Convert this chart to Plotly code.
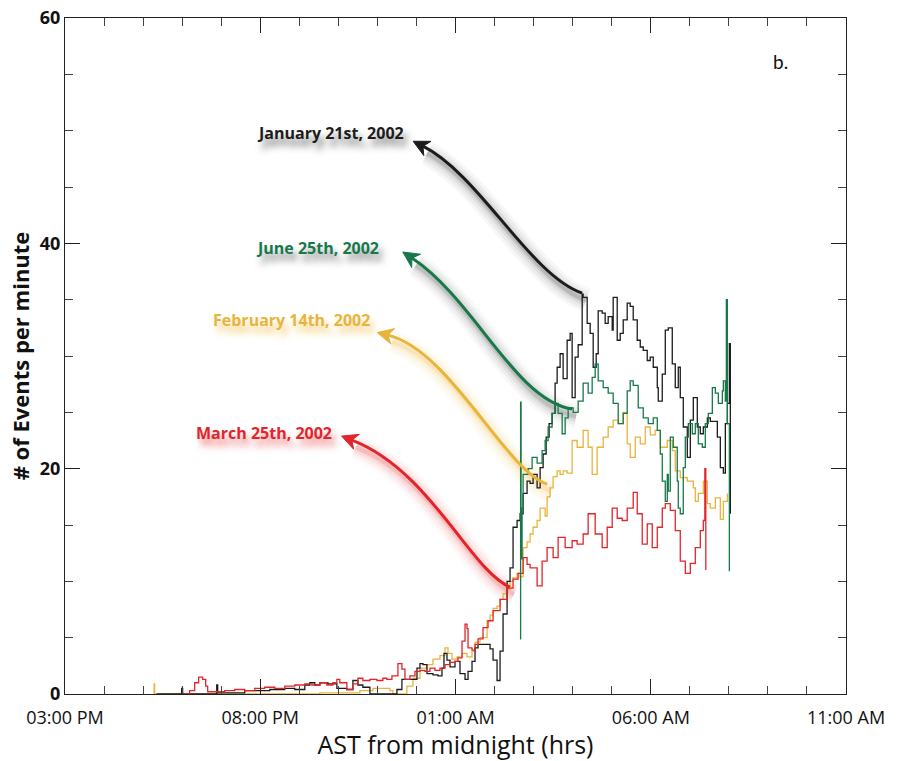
import math
import plotly.graph_objects as go

# ---------------------------------------------------------------------------
# Event rates (events per minute) vs. AST hours from midnight
# (negative hours = evening before midnight)
# ---------------------------------------------------------------------------
jan21_hours = [-6.654, -6.038, -6.013, -5.987, -5.141, -5.115, -5.090, -4.654, -4.397, -4.038,
               -3.756, -3.372, -3.115, -2.859, -2.731, -2.603, -2.474, -2.269, -2.038, -1.782,
               -1.628, -1.500, -1.372, -1.192, -0.603, -0.500, -0.372, -0.167, 0.013, 0.090,
               0.167, 0.269, 0.423, 0.551, 0.654, 0.705, 0.782, 0.859, 0.987, 1.115,
               1.244, 1.321, 1.423, 1.500, 1.577, 1.756, 1.885, 1.962, 2.064, 2.141,
               2.218, 2.321, 2.397, 2.474, 2.577, 2.654, 2.731, 2.833, 2.910, 2.987,
               3.090, 3.167, 3.244, 3.321, 3.397, 3.474, 3.551, 3.603, 3.679, 3.756,
               3.859, 3.936, 3.987, 4.064, 4.141, 4.244, 4.269, 4.372, 4.449, 4.526,
               4.603, 4.654, 4.756, 4.833, 4.910, 5.013, 5.038, 5.141, 5.218, 5.295,
               5.397, 5.474, 5.551, 5.654, 5.731, 5.808, 5.910, 5.987, 6.064, 6.167,
               6.192, 6.295, 6.372, 6.449, 6.551, 6.628, 6.705, 6.756, 6.833, 6.936,
               7.013, 7.090, 7.192, 7.269, 7.346, 7.449, 7.526, 7.603, 7.705, 7.782,
               7.859, 7.910, 7.962, 8.013, 8.038]
jan21_rate = [0, 0, 0.5, 0, 0, 0.8, 0.1, 0.1, 0.3, 0.3,
              0.4, 0.5, 0.4, 0.8, 1.0, 0.8, 1.0, 0.9, 0.5, 0.4,
              1.2, 0.8, 0.6, 0, 0, 0.4, 1.3, 1.3, 2.3, 2.7,
              2.6, 1.8, 1.7, 1.6, 2.3, 3.6, 3.0, 2.4, 2.9, 1.8,
              1.3, 2.0, 2.9, 4.1, 4.4, 4.4, 4.0, 3.0, 1.2, 3.8,
              7.1, 10.0, 11.2, 14.8, 15.4, 16.0, 17.8, 18.9, 18.7, 19.5,
              18.3, 20.1, 21.3, 22.8, 24.0, 24.9, 27.6, 29.0, 30.2, 28.0,
              31.4, 32.0, 26.3, 29.9, 31.0, 35.5, 35.2, 32.9, 32.0, 29.0,
              30.2, 34.0, 33.8, 32.9, 33.5, 32.3, 35.2, 31.4, 32.0, 33.2,
              34.7, 34.4, 33.2, 31.4, 30.8, 30.5, 29.6, 29.9, 29.0, 27.2,
              26.0, 28.4, 32.3, 32.5, 29.3, 27.2, 29.0, 26.3, 23.7, 21.0,
              24.3, 26.3, 23.7, 23.1, 23.7, 24.5, 24.2, 24.2, 22.8, 20.1,
              19.6, 24.0, 25.8, 31.1, 16.0]

jun25_hours = [2.654, 2.667, 2.679, 2.705, 2.731, 2.859, 2.962, 3.090, 3.218, 3.295,
               3.372, 3.474, 3.551, 3.628, 3.731, 3.808, 3.885, 4.013, 4.141, 4.269,
               4.397, 4.500, 4.577, 4.654, 4.782, 4.910, 5.038, 5.167, 5.295, 5.397,
               5.474, 5.551, 5.679, 5.808, 5.936, 6.064, 6.167, 6.244, 6.295, 6.372,
               6.423, 6.449, 6.500, 6.577, 6.679, 6.705, 6.756, 6.833, 6.885, 6.962,
               7.064, 7.141, 7.218, 7.321, 7.397, 7.474, 7.577, 7.654, 7.731, 7.833,
               7.859, 7.910, 7.936, 7.962, 8.013]
jun25_rate = [4.9, 25.9, 12.0, 16.5, 19.5, 20.0, 21.0, 20.5, 21.6, 22.5,
              23.7, 24.9, 25.8, 24.9, 23.1, 24.5, 25.4, 25.0, 26.0, 27.6,
              26.7, 28.1, 29.3, 27.8, 27.2, 26.7, 25.8, 24.0, 24.9, 26.9,
              27.8, 27.4, 25.4, 24.5, 24.0, 24.5, 23.4, 21.3, 18.9, 17.1,
              19.5, 18.0, 22.8, 21.9, 18.9, 16.5, 16.0, 20.1, 22.8, 24.0,
              23.1, 24.0, 22.2, 21.9, 24.0, 24.9, 27.2, 26.7, 25.8, 26.9,
              27.8, 26.0, 35.0, 24.0, 10.9]

feb14_hours = [-6.731, -6.718, -6.705, -2.987, -2.474, -1.833, -1.449, -1.115, -0.808, -0.679,
               -0.603, -0.423, -0.244, -0.090, 0.090, 0.269, 0.423, 0.603, 0.731, 0.808,
               0.910, 1.038, 1.167, 1.295, 1.423, 1.500, 1.628, 1.705, 1.808, 1.885,
               1.962, 2.064, 2.141, 2.218, 2.321, 2.397, 2.474, 2.577, 2.654, 2.731,
               2.833, 2.910, 2.987, 3.090, 3.167, 3.218, 3.295, 3.346, 3.423, 3.500,
               3.603, 3.679, 3.756, 3.859, 3.987, 4.115, 4.269, 4.397, 4.500, 4.628,
               4.782, 4.910, 5.038, 5.167, 5.295, 5.397, 5.474, 5.603, 5.731, 5.859,
               5.987, 6.115, 6.244, 6.423, 6.551, 6.628, 6.756, 6.936, 7.090, 7.141,
               7.218, 7.346, 7.449, 7.526, 7.654, 7.782, 7.859, 7.962]
feb14_rate = [0, 0.9, 0, 0, 0.1, 0.1, 0.3, 0.5, 0.5, 0.3,
              0, 0, 0.7, 1.4, 2.3, 2.6, 3.1, 3.4, 4.1, 3.6,
              3.1, 3.3, 3.6, 3.3, 3.8, 4.6, 5.0, 5.0, 6.5, 7.0,
              7.6, 7.8, 8.4, 8.9, 9.3, 10.0, 10.3, 10.7, 10.4, 13.0,
              13.5, 14.2, 14.8, 15.4, 16.5, 16.5, 15.8, 17.5, 18.3, 19.3,
              19.8, 19.5, 19.8, 19.6, 22.5, 21.9, 23.4, 21.9, 19.5, 21.9,
              22.8, 23.7, 24.3, 24.0, 25.0, 22.2, 21.0, 22.8, 22.2, 23.7,
              23.0, 23.4, 21.9, 22.5, 21.6, 19.8, 19.2, 18.9, 18.3, 17.1,
              17.8, 18.9, 16.9, 16.5, 17.4, 15.5, 17.1, 17.8]

mar25_hours = [-5.936, -5.808, -5.679, -5.577, -5.474, -5.397, -5.346, -5.167, -4.910, -4.654,
               -4.397, -4.141, -3.885, -3.628, -3.372, -3.115, -2.859, -2.679, -2.474, -2.295,
               -2.141, -2.038, -1.962, -1.782, -1.628, -1.500, -1.372, -1.192, -1.013, -0.859,
               -0.756, -0.628, -0.474, -0.372, -0.295, -0.167, -0.038, 0.090, 0.218, 0.346,
               0.474, 0.603, 0.731, 0.859, 0.987, 1.064, 1.167, 1.244, 1.295, 1.321,
               1.423, 1.500, 1.577, 1.705, 1.833, 1.962, 2.141, 2.321, 2.474, 2.603,
               2.731, 2.833, 2.910, 3.090, 3.218, 3.346, 3.500, 3.628, 3.808, 3.987,
               4.115, 4.269, 4.397, 4.577, 4.756, 4.885, 5.013, 5.141, 5.269, 5.397,
               5.551, 5.654, 5.782, 5.910, 6.038, 6.167, 6.295, 6.372, 6.500, 6.628,
               6.756, 6.885, 7.013, 7.141, 7.269, 7.346, 7.385, 7.410]
mar25_rate = [0, 0.3, 1.0, 1.5, 1.3, 0.7, 0.2, 0.2, 0.3, 0.4,
              0.3, 0.5, 0.6, 0.5, 0.7, 0.8, 0.9, 0.8, 1.0, 0.8,
              1.0, 1.3, 1.0, 0.4, 0.9, 1.4, 1.2, 1.3, 1.2, 1.4,
              1.3, 1.6, 2.7, 2.2, 1.3, 1.6, 2.0, 2.1, 2.0, 2.3,
              2.1, 2.3, 2.6, 2.8, 2.9, 3.2, 4.7, 6.2, 5.8, 4.1,
              3.9, 4.4, 4.9, 5.9, 6.5, 7.4, 8.4, 9.4, 10.2, 10.7,
              12.1, 11.5, 11.2, 9.6, 11.8, 13.0, 12.1, 13.9, 13.0, 13.6,
              13.3, 14.2, 16.0, 14.2, 13.0, 14.8, 16.5, 15.6, 15.4, 16.5,
              17.9, 16.0, 13.3, 15.1, 13.0, 14.8, 16.5, 16.9, 16.3, 14.5,
              11.8, 10.7, 11.6, 13.0, 14.5, 15.4, 20.0, 11.0]

tick_hours = [-9, -4, 1, 6, 11]
tick_labels = ["03:00 PM", "08:00 PM", "01:00 AM", "06:00 AM", "11:00 AM"]
count_ticks = [0, 20, 40, 60]

# ---------------------------------------------------------------------------
# Layout constants
# ---------------------------------------------------------------------------
W, H = 897, 761
MARGIN = dict(l=65, r=51, t=18, b=67)
X_RANGE = [-9, 11]
Y_RANGE = [0, 60]
PX_PER_X = (W - MARGIN["l"] - MARGIN["r"]) / (X_RANGE[1] - X_RANGE[0])
PX_PER_Y = (H - MARGIN["t"] - MARGIN["b"]) / (Y_RANGE[1] - Y_RANGE[0])

BLACK = "#1c1c1c"
GREEN = "#17794a"
GOLD = "#e9b43c"
RED = "#e2242b"

series = [
    ("February 14th, 2002", feb14_hours, feb14_rate, GOLD),
    ("January 21st, 2002", jan21_hours, jan21_rate, BLACK),
    ("March 25th, 2002", mar25_hours, mar25_rate, RED),
    ("June 25th, 2002", jun25_hours, jun25_rate, GREEN),
]

fig = go.Figure()
for name, t, n, color in series:
    fig.add_trace(go.Scatter(
        x=t, y=n, name=name, mode="lines",
        line=dict(color=color, width=1.3, shape="hv"),
        hoverinfo="skip", showlegend=False,
    ))

# ---------------------------------------------------------------------------
# Curved call-out arrows (cubic Bezier from the trace to its label)
# ---------------------------------------------------------------------------
callouts = [
    # label, colour, glow rgb, glow strength, bezier control points (hours, events), label anchor
    ("January 21st, 2002", BLACK, "60,60,60", 1.0,
     [(4.244, 35.58), (2.910, 37.18), (1.628, 46.05), (0.167, 48.62)], (-0.27, 49.8)),
    ("June 25th, 2002", GREEN, "60,60,60", 0.9,
     [(3.987, 25.29), (2.526, 26.09), (1.500, 34.96), (-0.115, 38.69)], (-0.91, 39.6)),
    ("February 14th, 2002", GOLD, "240,185,60", 1.0,
     [(3.346, 18.63), (2.269, 19.88), (0.859, 30.52), (-0.731, 31.85)], (-1.14, 33.2)),
    ("March 25th, 2002", RED, "235,50,50", 0.9,
     [(2.397, 9.49), (1.372, 11.00), (0.346, 19.88), (-1.654, 22.54)], (-2.12, 23.2)),
]


def bezier_path(pts, dx=0.0, dy=0.0):
    (x0, y0), (x1, y1), (x2, y2), (x3, y3) = pts
    return (f"M {x0 + dx},{y0 + dy} C {x1 + dx},{y1 + dy} "
            f"{x2 + dx},{y2 + dy} {x3 + dx},{y3 + dy}")


def arrow_head(pts, dx=0.0, dy=0.0):
    (x2, y2), (x3, y3) = pts[2], pts[3]
    ux, uy = (x3 - x2) * PX_PER_X, (y3 - y2) * PX_PER_Y
    norm = math.hypot(ux, uy)
    ux, uy = ux / norm, uy / norm
    nx, ny = -uy, ux

    def pt(along, side):
        px = along * ux + side * nx
        py = along * uy + side * ny
        return (x3 + dx + px / PX_PER_X, y3 + dy + py / PX_PER_Y)

    tip = pt(11, 0)
    b1 = pt(-5, 8)
    notch = pt(0, 0)
    b2 = pt(-5, -8)
    return (f"M {tip[0]},{tip[1]} L {b1[0]},{b1[1]} L {notch[0]},{notch[1]} "
            f"L {b2[0]},{b2[1]} Z")


shapes = []
annotations = []
sdx, sdy = 4 / PX_PER_X, -7 / PX_PER_Y
for label, color, glow, strength, pts, anchor in callouts:
    # soft drop shadow built from stacked translucent strokes
    for width, alpha in [(24, 0.04), (18, 0.06), (12, 0.08), (7, 0.11), (4, 0.14)]:
        shapes.append(dict(type="path", path=bezier_path(pts, sdx, sdy),
                           xref="x", yref="y", layer="below",
                           line=dict(color=f"rgba({glow},{alpha * strength:.3f})",
                                     width=width)))
    # arrow body and head
    shapes.append(dict(type="path", path=bezier_path(pts), xref="x", yref="y",
                       layer="above", line=dict(color=color, width=3)))
    shapes.append(dict(type="path", path=arrow_head(pts), xref="x", yref="y",
                       layer="above", fillcolor=color, line=dict(color=color, width=1)))
    annotations.append(dict(
        x=anchor[0], y=anchor[1], xref="x", yref="y", text=label, showarrow=False,
        xanchor="right", yanchor="middle",
        font=dict(family="Open Sans", size=16, color=color, weight="bold",
                  shadow=f"4px 7px 7px rgba({glow},{0.7 * strength:.2f})"),
    ))

annotations.append(dict(
    x=9.32, y=56.1, xref="x", yref="y", text="b.", showarrow=False,
    xanchor="center", yanchor="middle",
    font=dict(family="Lato", size=19, color="#111"),
))

axis_font = dict(family="Open Sans", color="#111")

fig.update_layout(
    width=W, height=H, margin=MARGIN,
    paper_bgcolor="white", plot_bgcolor="white",
    shapes=shapes, annotations=annotations, showlegend=False,
    xaxis=dict(
        range=X_RANGE, tickmode="array", tickvals=tick_hours, ticktext=tick_labels,
        ticks="inside", ticklen=15, tickwidth=1, tickcolor="#222",
        showline=True, linecolor="#222", linewidth=1.2, mirror="ticks",
        showgrid=False, zeroline=False, ticklabelstandoff=7, automargin=False,
        minor=dict(tickmode="array", tickvals=list(range(-9, 12)), ticks="inside",
                   ticklen=8, tickwidth=1, tickcolor="#444", showgrid=False),
        tickfont=dict(size=18, **axis_font),
        title=dict(text="AST from midnight (hrs)", standoff=6,
                   font=dict(size=25, **axis_font)),
    ),
    yaxis=dict(
        range=Y_RANGE, tickmode="array", tickvals=count_ticks,
        ticks="inside", ticklen=15, tickwidth=1, tickcolor="#222",
        showline=True, linecolor="#222", linewidth=1.2, mirror="ticks",
        showgrid=False, zeroline=False, automargin=False,
        minor=dict(tickmode="array", tickvals=list(range(0, 61, 5)), ticks="inside",
                   ticklen=8, tickwidth=1, tickcolor="#444", showgrid=False),
        tickfont=dict(size=18, weight="bold", **axis_font),
        title=dict(text="# of Events per minute", standoff=4,
                   font=dict(size=22, weight="bold", **axis_font)),
    ),
)

fig.write_html("out.html")
